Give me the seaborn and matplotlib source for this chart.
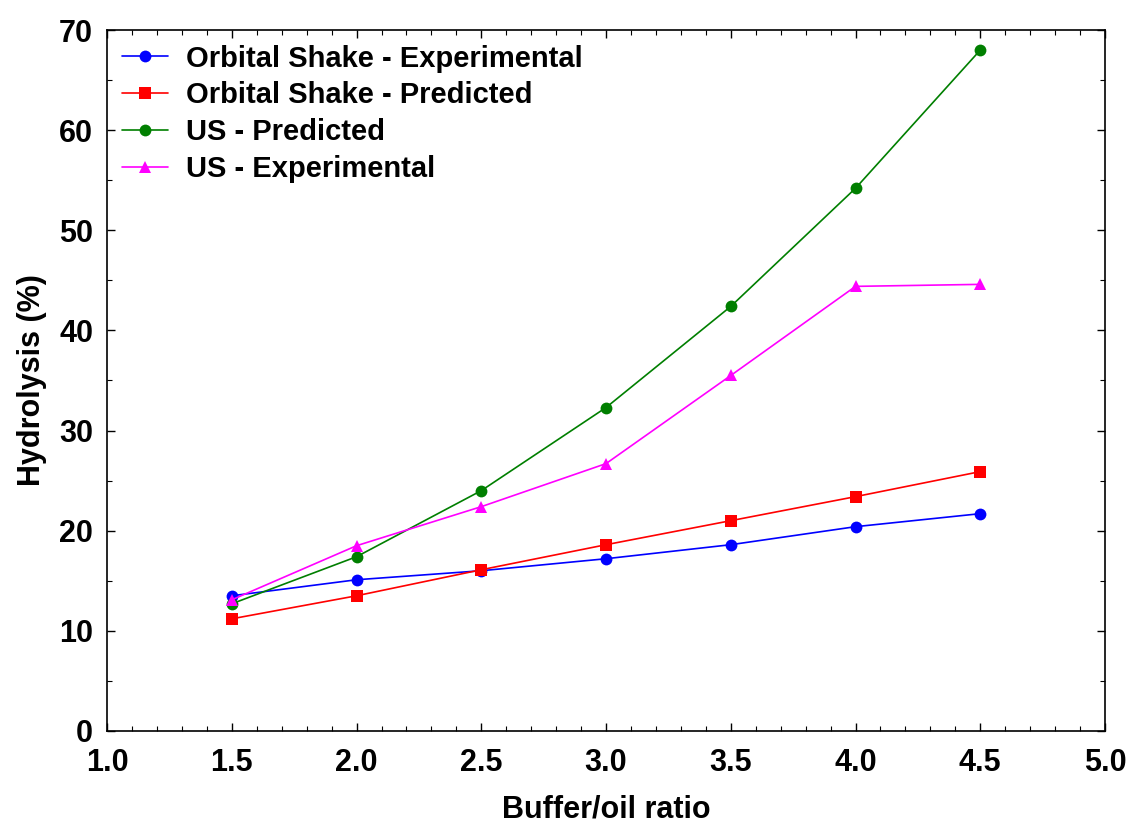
import matplotlib
matplotlib.use("Agg")
import matplotlib.pyplot as plt
from matplotlib.ticker import MultipleLocator, FormatStrFormatter
import seaborn as sns
import pandas as pd

ratio = [1.5, 2.0, 2.5, 3.0, 3.5, 4.0, 4.5]
os_exp = [13.5, 15.1, 16.0, 17.2, 18.6, 20.4, 21.7]
os_pred = [11.2, 13.5, 16.1, 18.6, 21.0, 23.4, 25.9]
us_pred = [12.7, 17.4, 24.0, 32.3, 42.4, 54.2, 68.0]
us_exp = [13.1, 18.5, 22.4, 26.7, 35.5, 44.4, 44.6]

series_names = ["Orbital Shake - Experimental", "Orbital Shake - Predicted",
                "US - Predicted", "US - Experimental"]
series_vals = [os_exp, os_pred, us_pred, us_exp]
colors = ["#0000ff", "#ff0000", "#007f00", "#ff00ff"]
markers = ["o", "s", "o", "^"]

sns.set_theme(style="ticks")
plt.rcParams["font.family"] = ["Liberation Sans", "DejaVu Sans"]
plt.rcParams["text.color"] = "black"
plt.rcParams["axes.labelcolor"] = "black"
plt.rcParams["xtick.color"] = "black"
plt.rcParams["ytick.color"] = "black"

df = pd.DataFrame({
    "ratio": ratio * len(series_names),
    "value": [v for vals in series_vals for v in vals],
    "series": [n for n in series_names for _ in ratio],
})

fig = plt.figure(figsize=(11.27, 8.25), dpi=100)
ax = fig.add_axes([0.095, 0.114, 0.8855, 0.8496])

sns.lineplot(data=df, x="ratio", y="value", hue="series", style="series",
             hue_order=series_names, style_order=series_names,
             palette=dict(zip(series_names, colors)),
             markers=dict(zip(series_names, markers)),
             dashes=False, linewidth=1.2, markersize=8.5,
             markeredgewidth=0, ax=ax)

ax.set_xlim(1.0, 5.0)
ax.set_ylim(0, 70)
ax.xaxis.set_major_locator(MultipleLocator(0.5))
ax.xaxis.set_minor_locator(MultipleLocator(0.1))
ax.yaxis.set_major_locator(MultipleLocator(10))
ax.yaxis.set_minor_locator(MultipleLocator(5))
ax.xaxis.set_major_formatter(FormatStrFormatter("%.1f"))
ax.tick_params(which="both", direction="in", top=True, right=True,
               color="black", labelcolor="black")
ax.tick_params(which="major", length=6, width=1)
ax.tick_params(which="minor", length=3.5, width=0.8)
ax.tick_params(axis="x", which="major", pad=12)
ax.tick_params(axis="y", which="major", pad=10)
for lab in ax.get_xticklabels() + ax.get_yticklabels():
    lab.set_fontweight("bold")
    lab.set_fontsize(22)
for sp in ax.spines.values():
    sp.set_linewidth(1.2)
    sp.set_color("black")

ax.set_xlabel("Buffer/oil ratio", fontsize=22, fontweight="bold", labelpad=12)
ax.set_ylabel("Hydrolysis (%)", fontsize=22, fontweight="bold", labelpad=9)

ax.legend(loc="upper left", frameon=False,
          prop={"weight": "bold", "size": 21},
          handlelength=1.6, handletextpad=0.6, labelspacing=0.3,
          borderaxespad=0.1, bbox_to_anchor=(0.0, 1.0))

fig.savefig("out.png", dpi=100)
